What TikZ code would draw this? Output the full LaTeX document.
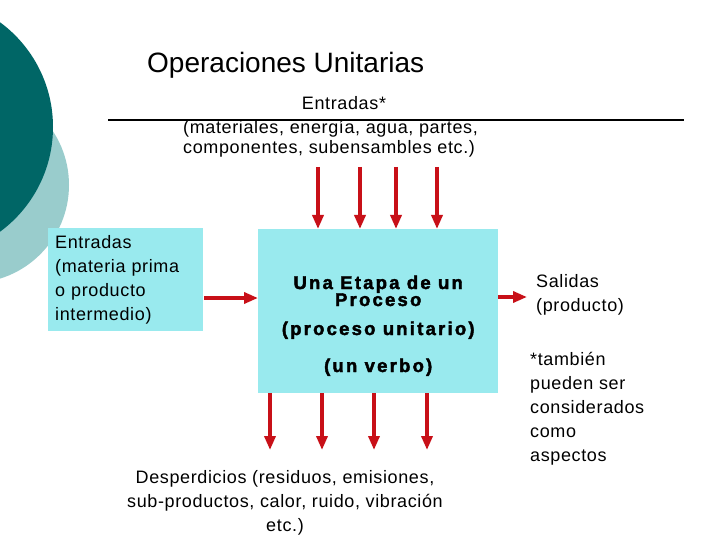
\documentclass[tikz,border=0pt]{standalone}
\usepackage{fontspec}
\setmainfont{Liberation Sans}
\usetikzlibrary{arrows.meta, positioning, calc}

\definecolor{tealdark}{RGB}{0,102,102}
\definecolor{teallight}{RGB}{153,204,204}
\definecolor{boxcyan}{RGB}{153,234,238}
\definecolor{arrowred}{RGB}{200,16,24}

\newfontfamily\heavyfont[FakeBold=2.2, LetterSpace=12]{Liberation Sans Bold}

\begin{document}
\begin{tikzpicture}[x=1pt, y=-1pt,
  redarrow/.style={draw=arrowred, line width=3.4pt, -{Triangle[length=14pt,width=11pt]}},
  cyanbox/.style={fill=boxcyan, inner sep=0pt},
  plaintext/.style={font=\fontsize{18}{24}\selectfont\addfontfeatures{LetterSpace=3.5}, align=left, inner sep=0pt},
  boxtext/.style={font=\heavyfont\fontsize{18.5}{19}\selectfont, inner sep=0pt}]

\useasboundingbox (0,0) rectangle (720,540);

% background circles
\begin{scope}
  \clip (0,0) rectangle (720,540);
  \fill[teallight] (-29,185) circle (98);
  \fill[tealdark] (-77,127) circle (130);
\end{scope}

% title
\node[anchor=base west, inner sep=0pt, font=\fontsize{28}{30}\selectfont] (title) at (147,73) {Operaciones Unitarias};

% top inputs
\coordinate (rulestart) at (108,120);
\coordinate (ruleend) at (684,120);
  \draw[line width=1.6pt] (rulestart) -- (ruleend);
\node[plaintext, anchor=base] (inhead) at (344,110) {Entradas*};
\node[plaintext, font=\fontsize{18}{20}\selectfont\addfontfeatures{LetterSpace=3.5}, anchor=base west] (inlist) at (183,154) {(materiales, energía, agua, partes,\\componentes, subensambles etc.)};

% boxes
\node[cyanbox, plaintext, minimum width=155, minimum height=103, text width=141, inner xsep=7pt, anchor=north west] (feed) at (48,228) {Entradas\\(materia prima\\o producto\\intermedio)};
\node[cyanbox, minimum width=240, minimum height=164, anchor=north west] (unit) at (258,229) {};

\node[boxtext, anchor=base] (stage) at ($(unit.north)+(0,60)$) {Una Etapa de un};
\node[boxtext, anchor=base] (stagetwo) at ($(unit.north)+(0,77)$) {Proceso};
\node[boxtext, anchor=base] (unitop) at ($(unit.north)+(0,106)$) {(proceso unitario)};
\node[boxtext, anchor=base] (verb) at ($(unit.north)+(0,143)$) {(un verbo)};

% arrows in
\foreach \x [count=\i] in {318,360,396,437} {
  \coordinate (inflow\i) at (\x,167);
  \draw[redarrow] (inflow\i) -- (inflow\i |- unit.north);
}
\coordinate (feedport) at (204,298);
  \draw[redarrow] (feedport) -- (feedport -| unit.west);

% arrows out
\foreach \x [count=\i] in {270,322,374,427} {
  \coordinate (waste\i) at (\x,450);
  \draw[redarrow] (waste\i |- unit.south) -- (waste\i);
}
\coordinate (outtip) at (527,297);
  \draw[redarrow] (outtip -| unit.east) -- (outtip);

% outputs and notes
\node[plaintext, anchor=base west] (product) at (536,311) {Salidas\\(producto)};
\node[plaintext, anchor=base west] (note) at (530,461) {*también\\pueden ser\\considerados\\como\\aspectos};
\node[plaintext, align=center, anchor=base] (wastetext) at (285,531) {Desperdicios (residuos, emisiones,\\sub-productos, calor, ruido, vibración\\etc.)};

\end{tikzpicture}
\end{document}
